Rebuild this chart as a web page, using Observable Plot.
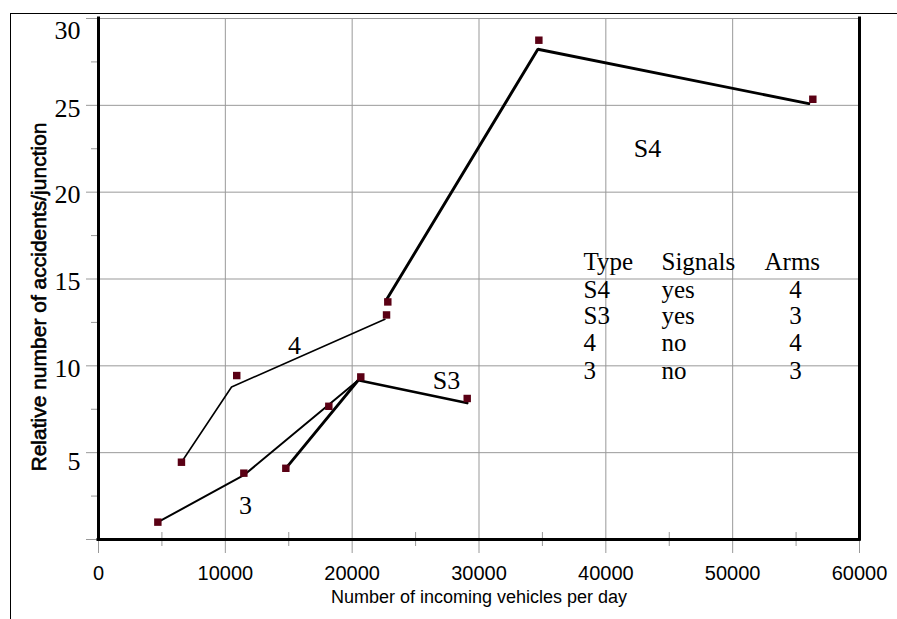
<!DOCTYPE html>
<html><head><meta charset="utf-8">
<script src="https://cdn.jsdelivr.net/npm/d3@7"></script>
<script src="https://cdn.jsdelivr.net/npm/@observablehq/plot@0.6"></script>
<style>
html,body{margin:0;padding:0;background:#fff;}
#wrap{position:relative;width:897px;height:619px;overflow:hidden;}
#border{position:absolute;left:10px;top:13px;right:0;bottom:0;border-top:1px solid #000;border-left:1px solid #000;pointer-events:none;}
</style></head><body>
<div id="wrap"><div id="border"></div></div>
<script>
// observed junction data (squares)
const pointX = [4680, 6540, 10900, 11460, 14770, 18160, 20680, 22710, 22810, 29070, 34720, 56320];
const pointY = [1.0, 4.45, 9.44, 3.82, 4.1, 7.67, 9.36, 12.93, 13.68, 8.12, 28.75, 25.35];
// fitted curves per junction type
const lineType = ["3","3","3","4","4","4","S3","S3","S3","S4","S4","S4"];
const lineX = [4680, 11460, 20480, 6540, 10490, 22580, 14770, 20480, 29070, 22680, 34640, 56000];
const lineY = [1.0, 3.7, 9.17, 4.45, 8.78, 12.68, 4.1, 9.17, 7.86, 13.77, 28.23, 25.1];
// ticks
const xTicks = [0, 10000, 20000, 30000, 40000, 50000, 60000];
const xMinorTicks = [5000, 15000, 25000, 35000, 45000, 55000];
const yTicks = [5, 10, 15, 20, 25, 30];
const yMinorTicks = [2.5, 7.5, 12.5, 17.5, 22.5, 27.5];
// texts
const xLabel = "Number of incoming vehicles per day";
const yLabel = "Relative number of accidents/junction";
const curveLabels = ["S4", "4", "S3", "3"];
const tableHeader = ["Type", "Signals", "Arms"];
const tableType = ["S4", "S3", "4", "3"];
const tableSignals = ["yes", "yes", "no", "no"];
const tableArms = ["4", "3", "4", "3"];

const points = pointX.map((x, i) => ({x, y: pointY[i]}));
const lines = lineX.map((x, i) => ({x, y: lineY[i], type: lineType[i]}));

const serif = "Liberation Serif, Times New Roman, serif";
const sans = "Liberation Sans, Arial, sans-serif";
const grid = "#999";
const width = {"3": 2, "4": 1.6, "S3": 2.8, "S4": 2.9};

// annotation placement (in data units)
const curveLabelPos = [[43290, 22.53], [15450, 11.16], [27440, 9.17], [11590, 1.92]];
const annot = curveLabels.map((t, i) => ({t, x: curveLabelPos[i][0], y: curveLabelPos[i][1]}));
const headerY = 15.5;
const rowY = [13.89, 12.42, 10.84, 9.26];
const colX = [38240, 44390, 52510];
const armsX = 54955;
const headerRows = tableHeader.map((t, i) => ({t, x: colX[i], y: headerY}));
const rows = [];
tableType.forEach((t, i) => {
  rows.push({t, x: colX[0], y: rowY[i]});
  rows.push({t: tableSignals[i], x: colX[1], y: rowY[i]});
});
const armRows = tableArms.map((t, i) => ({t, x: armsX, y: rowY[i]}));

const yMid = yTicks.filter(d => d !== 5 && d !== 30);

const chart = Plot.plot({
  width: 897, height: 619,
  marginLeft: 98, marginRight: 38, marginTop: 18, marginBottom: 80,
  x: {domain: [0, 60000], axis: null},
  y: {domain: [0, 30], axis: null},
  style: {background: "transparent", fontFamily: sans, color: "#000"},
  marks: [
    // gridlines and crossing ticks
    Plot.ruleX(xTicks.slice(1, -1), {x: d => d, y1: 30, y2: 0, stroke: grid, insetBottom: -14}),
    Plot.ruleX([0, 60000], {x: d => d, y1: 0, y2: 0, stroke: grid, insetTop: -14, insetBottom: -14}),
    Plot.ruleX(xMinorTicks, {x: d => d, y1: 0, y2: 0, stroke: grid, insetTop: -7, insetBottom: -7}),
    Plot.ruleY(yTicks, {y: d => d, x1: 0, x2: 60000, stroke: grid, insetLeft: -12}),
    Plot.ruleY([0], {y: d => d, x1: 0, x2: 0, stroke: grid, insetLeft: -12, insetRight: -12}),
    Plot.ruleY(yMinorTicks, {y: d => d, x1: 0, x2: 0, stroke: grid, insetLeft: -7}),
    // curves
    ...["3", "4", "S3", "S4"].map(t =>
      Plot.line(lines.filter(d => d.type === t), {x: "x", y: "y", stroke: "#000", strokeWidth: width[t], strokeLinejoin: "miter"})
    ),
    // observations
    Plot.dot(points, {x: "x", y: "y", symbol: "square", r: 4.2, fill: "#5a0014", stroke: "none"}),
    // heavy frame
    Plot.ruleX([0, 60000], {x: d => d, y1: 30, y2: 0, stroke: "#000", strokeWidth: 3, strokeLinecap: "square"}),
    Plot.ruleY([0], {y: d => d, x1: 0, x2: 60000, stroke: "#000", strokeWidth: 3, strokeLinecap: "square"}),
    // tick labels
    Plot.text(xTicks, {x: d => d, y: 0, text: d => String(d), lineAnchor: "bottom", dy: 40, fontSize: 20, fontFamily: sans}),
    Plot.text(yMid, {x: 0, y: d => d, text: d => String(d), textAnchor: "end", dx: -18, dy: 3, fontSize: 26, fontFamily: serif}),
    Plot.text([30], {x: 0, y: d => d, text: d => String(d), textAnchor: "end", dx: -18, dy: 12, fontSize: 26, fontFamily: serif}),
    Plot.text([5], {x: 0, y: d => d, text: d => String(d), textAnchor: "end", dx: -18, dy: 9, fontSize: 26, fontFamily: serif}),
    // curve labels
    Plot.text(annot, {x: "x", y: "y", text: "t", fontSize: 26, fontFamily: serif}),
    // table
    Plot.text(headerRows, {x: "x", y: "y", text: "t", textAnchor: "start", lineAnchor: "bottom", fontSize: 25, fontFamily: serif}),
    Plot.text(rows, {x: "x", y: "y", text: "t", textAnchor: "start", lineAnchor: "bottom", fontSize: 25, fontFamily: serif}),
    Plot.text(armRows, {x: "x", y: "y", text: "t", textAnchor: "middle", lineAnchor: "bottom", fontSize: 25, fontFamily: serif}),
    // axis labels
    Plot.text([xLabel], {frameAnchor: "bottom", text: d => d, lineAnchor: "bottom", dy: 63, fontSize: 18, fontFamily: sans}),
    Plot.text([yLabel], {frameAnchor: "left", text: d => d, rotate: -90, textAnchor: "middle", lineAnchor: "bottom", dx: -53, dy: 18, fontSize: 21, fontFamily: sans, fill: "#000", stroke: "#000", strokeWidth: 0.6})
  ]
});
document.getElementById("wrap").appendChild(chart);
</script>
</body></html>
